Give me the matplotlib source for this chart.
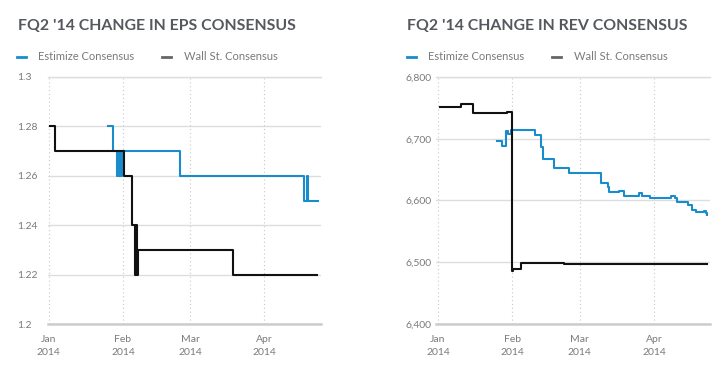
import pandas as pd
import matplotlib
matplotlib.use('Agg')
import matplotlib.pyplot as plt
import matplotlib.dates as mdates
from matplotlib.lines import Line2D
from matplotlib.ticker import FuncFormatter

plt.rcParams['font.family'] = ['Lato', 'DejaVu Sans']

BLUE = '#1a8ccc'
BLACK = '#111111'
GRAY_TXT = '#7a7a7a'
TITLE_C = '#55585c'

# EPS consensus (step values, held until next date)
eps_est_dates = ['2014-01-25 19:00', '2014-01-27 17:00', '2014-01-29 07:00', '2014-01-29 19:00',
                 '2014-01-30 07:00', '2014-01-30 19:00', '2014-01-31 05:00', '2014-01-31 17:00',
                 '2014-02-24 22:00', '2014-04-17 17:00', '2014-04-18 19:00', '2014-04-19 10:00',
                 '2014-04-23 07:00']
eps_est_vals = [1.28, 1.27, 1.26, 1.27, 1.26, 1.27, 1.26, 1.27, 1.26, 1.25, 1.26, 1.25, 1.25]

eps_ws_dates = ['2014-01-01 17:00', '2014-01-03 12:00', '2014-02-01 12:00', '2014-02-04 14:00',
                '2014-02-06 00:00', '2014-02-06 10:00', '2014-02-06 19:00', '2014-02-07 02:00',
                '2014-03-19 00:00', '2014-04-23 00:00']
eps_ws_vals = [1.28, 1.27, 1.26, 1.24, 1.22, 1.24, 1.22, 1.23, 1.22, 1.22]

# Revenue consensus ($M)
rev_est_dates = ['2014-01-25 17:00', '2014-01-27 17:00', '2014-01-29 12:00', '2014-01-30 05:00',
                 '2014-01-31 07:00', '2014-02-10 12:00', '2014-02-12 19:00', '2014-02-13 19:00',
                 '2014-02-18 07:00', '2014-02-24 17:00', '2014-03-09 19:00', '2014-03-12 17:00',
                 '2014-03-13 07:00', '2014-03-17 10:00', '2014-03-19 12:00', '2014-03-25 19:00',
                 '2014-03-27 02:00', '2014-03-30 07:00', '2014-04-08 00:00', '2014-04-09 14:00',
                 '2014-04-10 17:00', '2014-04-15 05:00', '2014-04-17 00:00', '2014-04-18 10:00',
                 '2014-04-21 19:00', '2014-04-22 14:00', '2014-04-23 05:00']
rev_est_vals = [6697, 6689, 6713, 6708, 6714, 6706, 6686, 6667, 6652, 6644, 6628, 6622,
                6613, 6615, 6608, 6612, 6608, 6604, 6608, 6604, 6597, 6593, 6585, 6582,
                6583, 6579, 6577]

rev_ws_dates = ['2014-01-01 20:00', '2014-01-10 17:00', '2014-01-15 17:00', '2014-01-29 14:00',
                '2014-01-31 17:00', '2014-02-01 10:00', '2014-02-04 10:00', '2014-02-14 05:00',
                '2014-02-22 12:00', '2014-04-23 05:00']
rev_ws_vals = [6751, 6756, 6741, 6744, 6486, 6489, 6499, 6498, 6497, 6497]

months = ['2014-01-01', '2014-02-01', '2014-03-01', '2014-04-01']


def style_axes(ax, yticks, fmt, xlim):
    ax.set_xlim(pd.Timestamp(xlim[0]), pd.Timestamp(xlim[1]))
    ax.set_ylim(yticks[0], yticks[-1])
    ax.set_yticks(yticks)
    ax.yaxis.set_major_formatter(FuncFormatter(fmt))
    ax.set_xticks([pd.Timestamp(m) for m in months])
    ax.xaxis.set_major_formatter(mdates.DateFormatter('%b\n%Y'))
    for s in ['left', 'right']:
        ax.spines[s].set_visible(False)
    ax.spines['top'].set_color('#dddddd')
    ax.spines['top'].set_linewidth(1.0)
    ax.spines['bottom'].set_color('#cccccc')
    ax.spines['bottom'].set_linewidth(1.8)
    ax.grid(axis='y', color='#dddddd', lw=1.0)
    ax.grid(axis='x', color='#c8c8c8', lw=0.8, ls=(0, (1, 2.5)))
    ax.set_axisbelow(True)
    ax.tick_params(length=0, labelsize=7.5, labelcolor=GRAY_TXT)
    ax.tick_params(axis='x', pad=8)
    ax.tick_params(axis='y', pad=22)
    for t in ax.get_yticklabels():
        t.set_horizontalalignment('left')
    for t in ax.get_xticklabels():
        t.set_linespacing(1.6)


def legend(fig, x0):
    h = fig.get_figheight() * 100
    w = fig.get_figwidth() * 100
    y = 1 - 57 / h
    fig.add_artist(Line2D([x0 / w, (x0 + 9) / w], [y, y], color=BLUE, lw=2))
    fig.text((x0 + 21) / w, y, 'Estimize Consensus', fontsize=8, color=GRAY_TXT, va='center')
    fig.add_artist(Line2D([(x0 + 145) / w, (x0 + 154) / w], [y, y], color='#666666', lw=2))
    fig.text((x0 + 167) / w, y, 'Wall St. Consensus', fontsize=8, color=GRAY_TXT, va='center')


fig = plt.figure(figsize=(7.28, 3.78), dpi=100)
ax1 = fig.add_axes([48 / 728, 54 / 378, 273 / 728, 247 / 378])
ax2 = fig.add_axes([436.3 / 728, 54 / 378, 273.4 / 728, 247 / 378])

ax1.plot(pd.to_datetime(eps_ws_dates), eps_ws_vals, drawstyle='steps-post', color=BLACK, lw=1.5, zorder=3)
ax1.plot(pd.to_datetime(eps_est_dates), eps_est_vals, drawstyle='steps-post', color=BLUE, lw=1.5, zorder=2)
style_axes(ax1, [1.2, 1.22, 1.24, 1.26, 1.28, 1.3], lambda v, p: f'{v:.2f}'.rstrip('0'),
           ('2013-12-31 16:00', '2014-04-24 17:00'))

ax2.plot(pd.to_datetime(rev_est_dates), rev_est_vals, drawstyle='steps-post', color=BLUE, lw=1.5, zorder=2)
ax2.plot(pd.to_datetime(rev_ws_dates), rev_ws_vals, drawstyle='steps-post', color=BLACK, lw=1.5, zorder=3)
style_axes(ax2, [6400, 6500, 6600, 6700, 6800], lambda v, p: f'{v:,.0f}',
           ('2013-12-31 07:00', '2014-04-24 05:00'))

fig.text(18 / 728, 1 - 26 / 378, "FQ2 '14 CHANGE IN EPS CONSENSUS", fontsize=11.4,
         fontweight='bold', color=TITLE_C, va='center')
fig.text(407 / 728, 1 - 26 / 378, "FQ2 '14 CHANGE IN REV CONSENSUS", fontsize=11.4,
         fontweight='bold', color=TITLE_C, va='center')
legend(fig, 17)
legend(fig, 406.7)

fig.savefig('out.png', dpi=100, facecolor='white')
